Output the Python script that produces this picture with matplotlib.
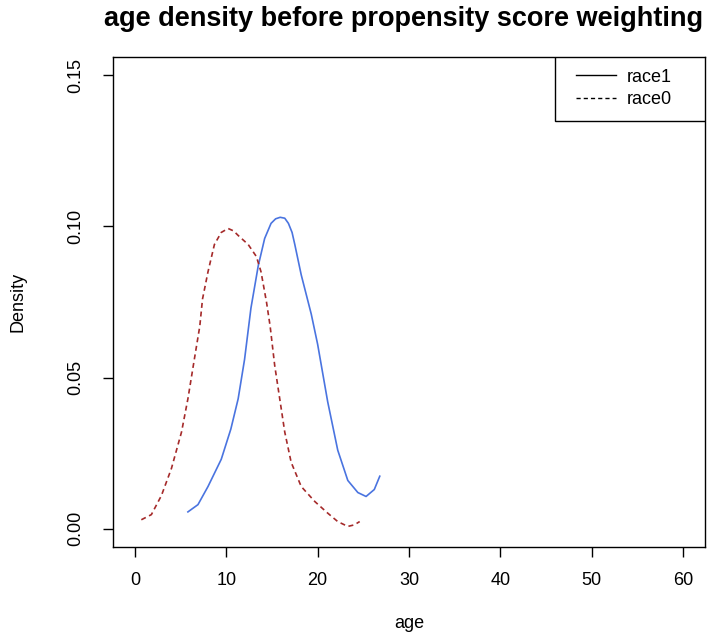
import matplotlib
matplotlib.use("Agg")
import matplotlib.pyplot as plt
from matplotlib.patches import Rectangle

plt.rcParams['font.family'] = ['Liberation Sans', 'DejaVu Sans']

# density estimates of age by group
age_race1 = [5.8, 6.9, 8.0, 9.45, 10.5, 11.3, 12.0, 12.7, 13.5, 14.2, 14.9, 15.4, 15.9, 16.4,
             16.8, 17.2, 17.5, 18.2, 19.3, 20.0, 21.1, 22.2, 23.3, 24.4, 25.3, 26.2, 26.8]
dens_race1 = [0.0056, 0.008, 0.014, 0.023, 0.033, 0.043, 0.056, 0.073, 0.087, 0.096, 0.101, 0.1025, 0.103, 0.1027,
              0.101, 0.098, 0.094, 0.084, 0.071, 0.061, 0.042, 0.026, 0.016, 0.012, 0.0107, 0.013, 0.0174]

age_race0 = [0.7, 1.8, 2.9, 4.0, 5.1, 5.8, 6.5, 7.1, 7.4, 8.0, 8.7, 9.45, 10.2, 10.8, 11.3, 12.4,
             13.3, 13.8, 14.4, 14.8, 15.3, 15.9, 16.4, 17.1, 18.2, 19.7, 21.1, 22.2, 23.3, 24.0, 24.6]
dens_race0 = [0.003, 0.0047, 0.011, 0.020, 0.032, 0.043, 0.056, 0.067, 0.076, 0.085, 0.094, 0.098,
              0.0993, 0.0985, 0.097, 0.094, 0.090, 0.085, 0.075, 0.067, 0.054, 0.042, 0.032, 0.022, 0.014,
              0.009, 0.0052, 0.0024, 0.0008, 0.0013, 0.0024]

xticks = [0, 10, 20, 30, 40, 50, 60]
yticks = [0.00, 0.05, 0.10, 0.15]
ytick_labels = ["0.00", "0.05", "0.10", "0.15"]

fig = plt.figure(figsize=(7.12, 6.39), dpi=100)
ax = fig.add_axes([0.1587, 0.144, 0.8315, 0.7668])

ax.plot(age_race1, dens_race1, color='#4a74e0', lw=1.2, linestyle='-', label='_nolegend_')
ax.plot(age_race0, dens_race0, color='#a52a2a', lw=1.2, linestyle=(0, (3, 2.2)), label='_nolegend_')

ax.set_xlim(-2.4, 62.4)
ax.set_ylim(-0.006, 0.156)
ax.set_xticks(xticks)
ax.set_yticks(yticks)
ax.set_yticklabels(ytick_labels, rotation=90, va='center')
ax.tick_params(direction='out', length=7, width=1, labelsize=13)
ax.tick_params(axis='x', pad=11)
ax.tick_params(axis='y', pad=14)
for s in ax.spines.values():
    s.set_linewidth(1)

ax.set_xlabel('age', fontsize=13, labelpad=19)
ax.set_ylabel('Density', fontsize=13, labelpad=29)
ax.set_title('age density before propensity score weighting', fontsize=19.5,
             fontweight='bold', pad=22, x=0.49)

# legend: black entries inside a box in the top right corner
ax.add_patch(Rectangle((0.747, 0.869), 0.253, 0.131, transform=ax.transAxes,
                       facecolor='white', edgecolor='black', lw=1, zorder=4))
ax.plot([], [], color='black', lw=1, linestyle='-', label='race1')
ax.plot([], [], color='black', lw=1, linestyle=(0, (3, 2.2)), label='race0')
leg = ax.legend(loc='upper left', bbox_to_anchor=(0.782, 0.976), frameon=False,
                borderpad=0, borderaxespad=0, fontsize=13, handlelength=2.2,
                labelspacing=0.3, handletextpad=0.6)
leg.set_zorder(5)

fig.savefig('out.png', dpi=100)
